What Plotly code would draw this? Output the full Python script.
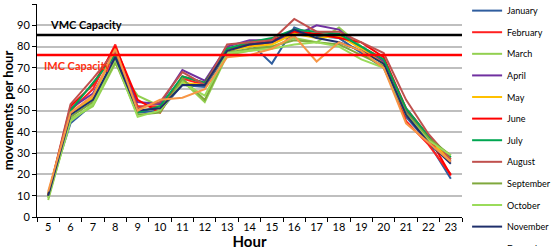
import plotly.graph_objects as go

hours = [str(h) for h in range(5, 24)]
months = ["January", "February", "March", "April", "May", "June", "July",
          "August", "September", "October", "November", "December"]
colors = ["#2F5D9E", "#FF2020", "#92D050", "#7030A0", "#FFC000", "#FF0000",
          "#00A651", "#C0504D", "#7FA83C", "#9ADB5A", "#1F2F6B", "#F79646"]

jan = [11, 44, 53, 76, 49, 50, 62, 61, 77, 82, 72, 89, 85, 84, 77, 70, 47, 35, 18]
feb = [10, 50, 60, 81, 52, 52, 65, 62, 79, 80, 82, 86, 86, 85, 80, 74, 45, 34, 20]
mar = [8, 46, 52, 72, 57, 52, 64, 54, 76, 78, 80, 84, 82, 89, 80, 72, 49, 37, 28]
apr = [10, 51, 58, 77, 54, 53, 69, 64, 80, 83, 83, 85, 90, 88, 79, 73, 50, 37, 26]
may = [11, 49, 56, 79, 50, 51, 63, 62, 78, 80, 81, 86, 84, 85, 79, 72, 48, 36, 27]
jun = [10, 52, 62, 80, 55, 49, 66, 63, 79, 81, 83, 87, 86, 84, 82, 75, 51, 38, 19.5]
jul = [10, 50, 63, 76, 49, 52, 66, 63, 79, 82, 84, 88, 87, 86, 80, 74, 51, 38, 28]
aug = [10, 53, 65, 78, 51, 54, 68, 62, 81, 82, 83, 93, 87, 87, 82, 77, 55, 39, 27]
sep = [9, 47, 54, 73, 48, 49, 65, 55, 77, 79, 80, 83, 82, 81, 76, 71, 49, 37, 29]
octo = [9, 45, 53, 74, 47, 50, 63, 57, 77, 78, 79, 81, 82, 80, 74, 70, 48, 36, 29]
nov = [10, 48, 55, 75, 50, 51, 62, 62, 78, 81, 82, 88, 84, 82, 78, 72, 48, 35, 25]
dec = [12, 49, 57, 79, 50, 55, 56, 60, 75, 76, 79, 85, 73, 82, 78, 70, 44, 35, 26]
series = [jan, feb, mar, apr, may, jun, jul, aug, sep, octo, nov, dec]

vmc_capacity = 85.5
imc_capacity = 76

FONT = "Lato"

fig = go.Figure()
for name, vals, col in zip(months, series, colors):
    fig.add_trace(go.Scatter(x=hours, y=vals, mode="lines", name=name,
                             legendgroup=name,
                             line=dict(color=col, width=2)))

fig.add_shape(type="line", xref="paper", yref="y", x0=0, x1=1,
              y0=vmc_capacity, y1=vmc_capacity, line=dict(color="black", width=2.5))
fig.add_shape(type="line", xref="paper", yref="y", x0=0, x1=1,
              y0=imc_capacity, y1=imc_capacity, line=dict(color="#FF0000", width=2.5))

fig.add_annotation(x=0.026, y=90.6, xref="paper", yref="y", text="<b>VMC Capacity</b>",
                   showarrow=False, xanchor="left", yanchor="middle",
                   font=dict(family=FONT, size=11, color="black"))
fig.add_annotation(x=0.012, y=70.9, xref="paper", yref="y", text="<b>IMC Capacity</b>",
                   showarrow=False, xanchor="left", yanchor="middle",
                   font=dict(family=FONT, size=11, color="#FF3010"))

fig.update_layout(
    width=553, height=250,
    margin=dict(l=37, r=91, t=4, b=33, autoexpand=False),
    paper_bgcolor="white", plot_bgcolor="white",
    font=dict(family=FONT, size=11, color="black"),
    showlegend=True,
    legend=dict(x=1.012, xanchor="left", y=1.037, yanchor="top",
                font=dict(family=FONT, size=9, color="black"),
                itemwidth=30, bgcolor="rgba(0,0,0,0)", maxheight=1,
                tracegroupgap=2.6),
    xaxis=dict(type="category", range=[-0.5, 18.5], showgrid=False,
               showline=True, linecolor="black", linewidth=1,
               ticks="outside", tickson="boundaries", ticklen=4, tickcolor="black",
               tickangle=0, automargin=False, ticklabelstandoff=0,
               tickfont=dict(family=FONT, size=11),
               title=dict(text="<b>Hour</b>", font=dict(family=FONT, size=15), standoff=0)),
    yaxis=dict(range=[0, 100], dtick=10, showgrid=True, gridcolor="#BFBFBF", gridwidth=1.5,
               showline=True, linecolor="black", linewidth=1,
               ticks="outside", ticklen=4, tickcolor="black",
               tickfont=dict(family=FONT, size=11),
               zeroline=False, automargin=False,
               title=dict(text="<b>movements per hour</b>", font=dict(family=FONT, size=13), standoff=2)),
)

fig.write_html("out.html", config={"displayModeBar": False},
               post_script="document.body.style.margin='0';document.body.style.overflow='hidden';")
